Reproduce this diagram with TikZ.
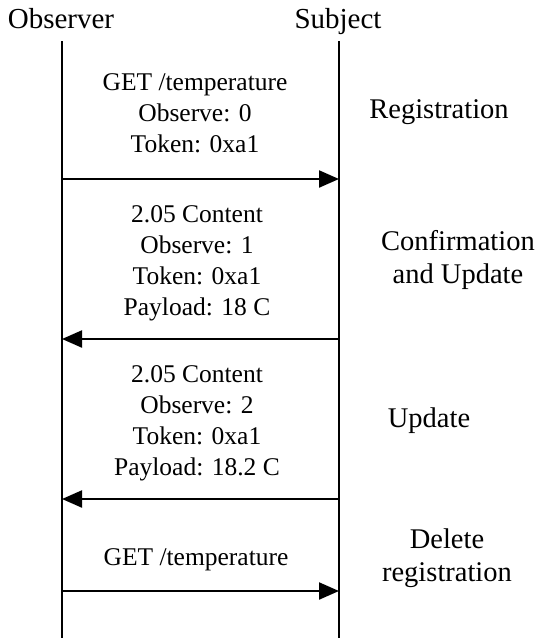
\documentclass[tikz,border=0pt]{standalone}
\usepackage{fontspec}
\setmainfont{Liberation Serif}
\usetikzlibrary{arrows.meta}
\begin{document}
\begin{tikzpicture}[x=1pt,y=-1pt,
  head/.style={font=\fontsize{29}{33}\selectfont, anchor=base, inner sep=0pt},
  side/.style={font=\fontsize{28.5}{33.5}\selectfont, align=center, inner sep=0pt},
  msg/.style={font=\fontsize{25.5}{31}\selectfont, align=center, inner sep=0pt},
  life/.style={line width=2.6pt},
  msgarrow/.style={line width=2.2pt, -{Triangle[length=20pt,width=17pt]}}]
\useasboundingbox (0,0) rectangle (539,638);
% headers
\node[head] (obs) at (61,28) {Observer};
\node[head] (sub) at (338,28) {Subject};
% lifelines
\coordinate (ot) at (62,41);
\coordinate (ob) at (62,638);
\coordinate (st) at (339,41);
\coordinate (sb) at (339,638);
\draw[life] (ot) -- (ob);
\draw[life] (st) -- (sb);
% arrow end points
\coordinate (o1) at (62,179);  \coordinate (s1) at (339,179);
\coordinate (o2) at (62,339);  \coordinate (s2) at (339,339);
\coordinate (o3) at (62,499);  \coordinate (s3) at (339,499);
\coordinate (o4) at (62,591);  \coordinate (s4) at (339,591);
\draw[msgarrow] (o1) -- (s1);
\draw[msgarrow] (s2) -- (o2);
\draw[msgarrow] (s3) -- (o3);
\draw[msgarrow] (o4) -- (s4);
% message labels
\node[msg] (m1) at (195,113) {GET /temperature\\Observe: 0\\Token: 0xa1};
\node[msg] (m2) at (197,263) {2.05 Content\\Observe: 1\\Token: 0xa1\\Payload: 18 C};
\node[msg] (m3) at (197,423) {2.05 Content\\Observe: 2\\Token: 0xa1\\Payload: 18.2 C};
\node[msg, anchor=base] (m4) at (196,565) {GET /temperature};
% side labels
\node[side, anchor=base] (l1) at (439,118) {Registration};
\node[side] (l2) at (458,260) {Confirmation\\and Update};
\node[side, anchor=base] (l3) at (429,427) {Update};
\node[side] (l4) at (447,558) {Delete\\registration};
\end{tikzpicture}
\end{document}
